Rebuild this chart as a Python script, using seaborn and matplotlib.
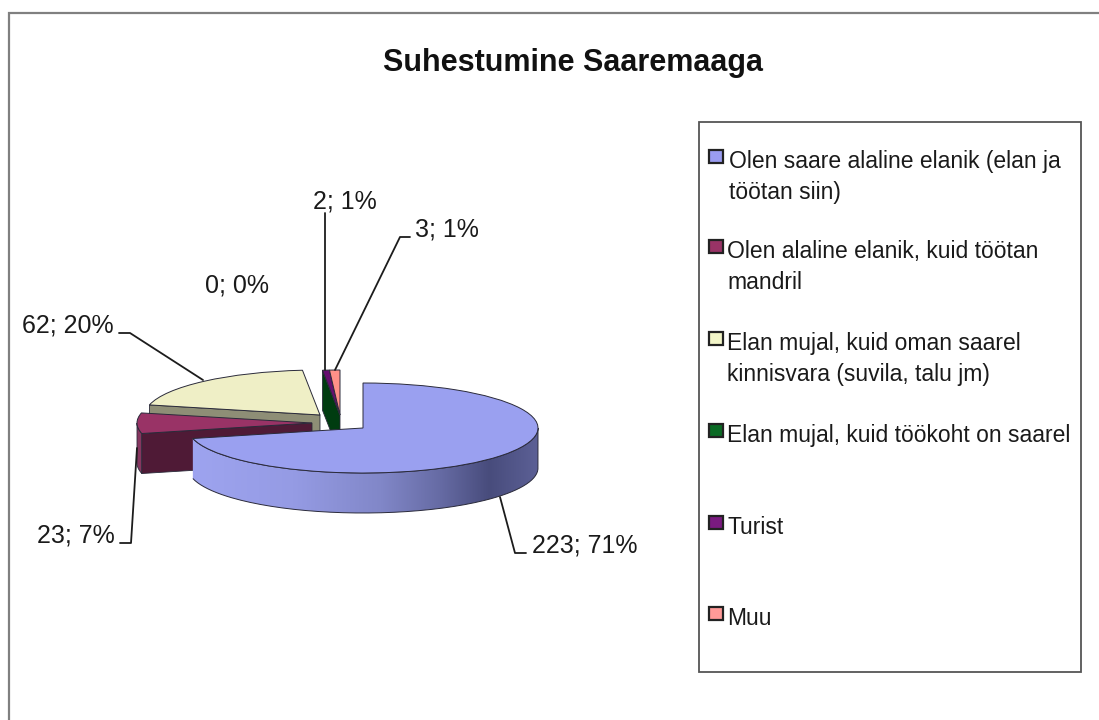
import numpy as np
import matplotlib
matplotlib.use("Agg")
import matplotlib.pyplot as plt
from matplotlib.colors import LinearSegmentedColormap
from matplotlib.patches import Rectangle, PathPatch
from matplotlib.path import Path
import seaborn as sns

# ---- data
title = "Suhestumine Saaremaaga"
categories = [
    "Olen saare alaline elanik (elan ja\ntöötan siin)",
    "Olen alaline elanik, kuid töötan\nmandril",
    "Elan mujal, kuid oman saarel\nkinnisvara (suvila, talu jm)",
    "Elan mujal, kuid töökoht on saarel",
    "Turist",
    "Muu",
]
counts = [223, 23, 62, 0, 2, 3]

# ---- styles
top_colors = ["#9aa0f0", "#993366", "#efefc6", "#004a14", "#660e70", "#ff9088"]
legend_colors = ["#9a9cf0", "#993366", "#f2f5c8", "#0a6a24", "#7a1a80", "#ff9a98"]
WALL_MAGENTA_CUT = "#4f1a36"
WALL_MAGENTA_ARC = "#86365f"
WALL_YELLOW = "#8e8e76"
WALL_GREEN = "#003c10"
EDGE = "#2a2a3a"

sns.set_theme(style="white")
plt.rcParams["font.family"] = ["Liberation Sans", "DejaVu Sans"]
palette = sns.color_palette(top_colors)

W, H = 1099, 720
fig = plt.figure(figsize=(W / 100, H / 100), dpi=100, facecolor="white")

# layout in pixels
RX, RY, DEPTH = 175.0, 45.0, 40.0
CX, CY = 363.0, 428.0
slice_shift_px = [(0, 0), (-51, -5), (-43, -13), (-23, -13), (-23, -13), (-23, -13)]

ax = fig.add_axes([0, 0, 1, 1])
wedges, _ = ax.pie(counts, colors=palette, startangle=90, counterclock=False,
                   radius=1, wedgeprops=dict(edgecolor=EDGE, linewidth=0.7))
ax.set_aspect("auto")
ax.axis("off")
d = DEPTH / RY

for w, (dx, dy) in zip(wedges, slice_shift_px):
    w.set_center((dx / RX, -dy / RY))


def pt(w, ang):
    a = np.deg2rad(ang)
    return np.array([w.center[0] + w.r * np.cos(a), w.center[1] + w.r * np.sin(a)])


def cut_face(w, ang):
    c = np.array(w.center)
    p = pt(w, ang)
    return np.array([c, p, p - [0, d], c - [0, d]])


def arc_wall(w, a1, a2):
    t = np.deg2rad(np.linspace(a1, a2, 120))
    x = w.center[0] + w.r * np.cos(t)
    y = w.center[1] + w.r * np.sin(t)
    return np.vstack([np.c_[x, y], np.c_[x, y - d][::-1]])


blue, magenta, yellow, green, purple, pink = wedges
# clockwise slices: theta2 is the edge where each slice starts

# small slices, with the wall of the empty slice behind them
f = cut_face(purple, purple.theta2)
ax.fill(f[:, 0], f[:, 1], color=WALL_GREEN, ec=EDGE, lw=0.6, zorder=2)
for w in (green, purple, pink):
    w.set_zorder(3)

# yellow
f = cut_face(yellow, yellow.theta2)
ax.fill(f[:, 0], f[:, 1], color=WALL_YELLOW, ec=EDGE, lw=0.6, zorder=4)
yellow.set_zorder(5)

# magenta
f = arc_wall(magenta, 180, magenta.theta2 % 360)
ax.fill(f[:, 0], f[:, 1], color=WALL_MAGENTA_ARC, ec=EDGE, lw=0.6, zorder=6)
f = cut_face(magenta, magenta.theta2)
ax.fill(f[:, 0], f[:, 1], color=WALL_MAGENTA_CUT, ec=EDGE, lw=0.6, zorder=6.5)
magenta.set_zorder(7)

# blue, with a shaded rim
rim = arc_wall(blue, blue.theta1 % 360, 360)
rim_path = PathPatch(Path(rim), fc="none", ec=EDGE, lw=0.7, zorder=8.5)
cmap = LinearSegmentedColormap.from_list("rim", [
    (0.00, "#9ea4f0"), (0.30, "#959be4"), (0.55, "#8187c8"),
    (0.72, "#666ba4"), (0.86, "#484c7c"), (1.00, "#5c6096")])
img = ax.imshow(np.linspace(0, 1, 256)[None, :], cmap=cmap, aspect="auto",
                extent=(pt(blue, 180)[0], pt(blue, 0)[0], -3, 1), zorder=8)
ax.add_patch(rim_path)
img.set_clip_path(rim_path)
blue.set_zorder(9)
ax.set_xlim(-CX / RX, (W - CX) / RX)
ax.set_ylim((CY - H) / RY, CY / RY)

# ---- overlay in pixel coordinates
ov = fig.add_axes([0, 0, 1, 1], zorder=10)
ov.set_xlim(0, W)
ov.set_ylim(H, 0)
ov.axis("off")
ov.patch.set_alpha(0)

# outer frame
ov.plot([8.5, 8.5, W], [H, 12.5, 12.5], color="#808080", lw=1.6, solid_joinstyle="miter")
ov.text(573, 63, title, fontsize=22, fontweight="bold", ha="center", va="center", color="#111111")

# data labels
total = sum(counts)
labels = [f"{c}; {round(100 * c / total)}%" for c in counts]
label_xy = [(532, 545), (37, 535), (22, 326), (205, 286), (313, 202), (415, 230)]
for s, (x, y) in zip(labels, label_xy):
    ov.text(x, y, s, fontsize=18, ha="left", va="center", color="#1a1a1a")

leaders = [
    ([500, 515, 526], [497, 553, 553]),
    ([120, 131, 137], [543, 543, 448]),
    ([119, 130, 203], [333, 333, 380]),
    ([325, 325], [213, 370]),
    ([410, 400, 335], [237, 237, 370]),
]
for xs, ys in leaders:
    ov.plot(xs, ys, color="#1c1c1c", lw=1.3, zorder=1)

# legend box
ov.add_patch(Rectangle((699, 122), 382, 550, fc="white", ec="#555555", lw=1.3, zorder=1))
legend_y = [160, 250, 342, 434, 526, 617]
legend_x = [729, 727, 727, 727, 727, 727]
for name, col, y, x in zip(categories, legend_colors, legend_y, legend_x):
    ov.add_patch(Rectangle((709, y - 10), 14, 13, fc=col, ec="#222222", lw=1.6, zorder=2))
    ov.text(x, y - 10, name, fontsize=16.45, ha="left", va="top", linespacing=1.47,
            color="#1a1a1a", zorder=3)

fig.savefig("out.png", dpi=100)
